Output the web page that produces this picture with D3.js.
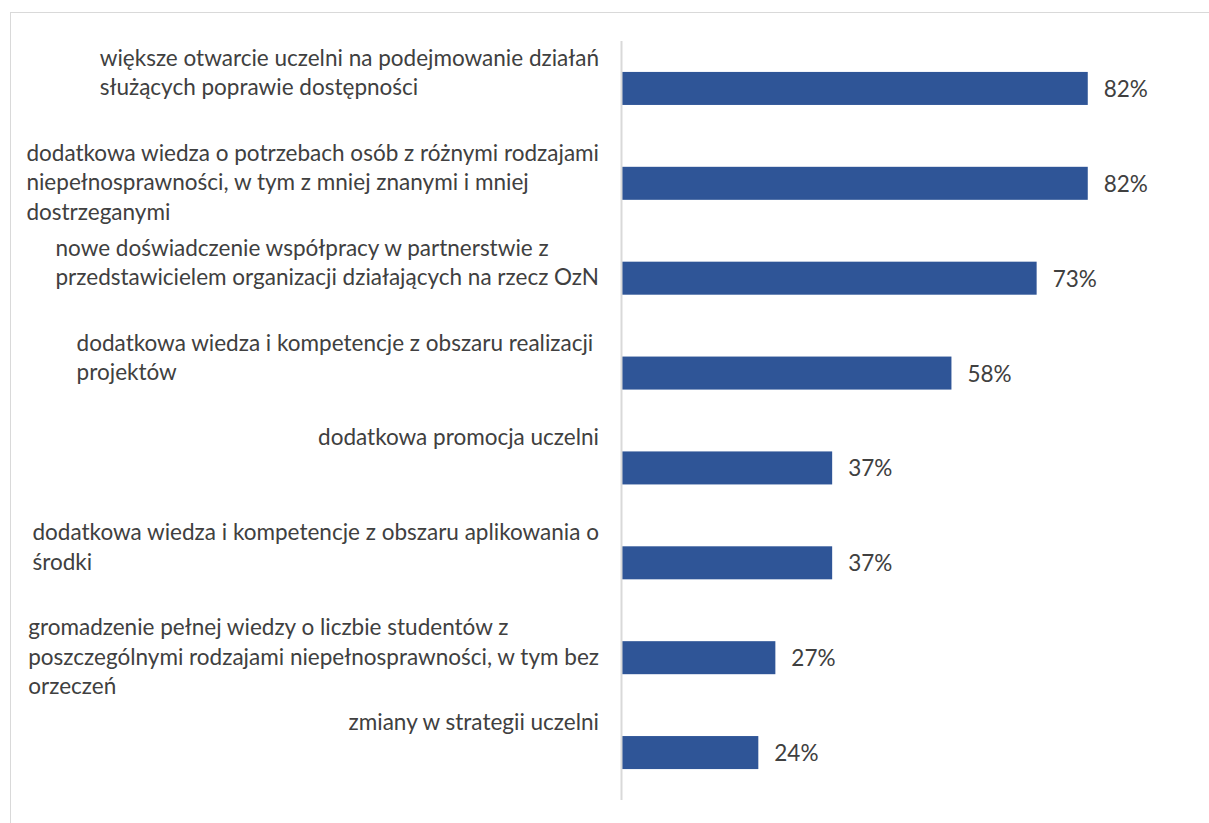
<!DOCTYPE html>
<html lang="pl">
<head>
<meta charset="utf-8">
<script src="https://cdn.jsdelivr.net/npm/d3@7"></script>
<style>
  html, body { margin: 0; padding: 0; background: #ffffff; }
  svg { display: block; }
</style>
</head>
<body>
<svg id="chart" width="1209" height="823"></svg>
<script>
// Category labels, already wrapped into lines
const labelLines = [
  ["większe otwarcie uczelni na podejmowanie działań", "służących poprawie dostępności"],
  ["dodatkowa wiedza o potrzebach osób z różnymi rodzajami", "niepełnosprawności, w tym z mniej znanymi i mniej", "dostrzeganymi"],
  ["nowe doświadczenie współpracy w partnerstwie z", "przedstawicielem organizacji działających na rzecz OzN"],
  ["dodatkowa wiedza i kompetencje z obszaru realizacji ", "projektów"],
  ["dodatkowa promocja uczelni"],
  ["dodatkowa wiedza i kompetencje z obszaru aplikowania o", "środki"],
  ["gromadzenie pełnej wiedzy o liczbie studentów z", "poszczególnymi rodzajami niepełnosprawności, w tym bez", "orzeczeń"],
  ["zmiany w strategii uczelni"]
];
// Share of answers (%)
const values = [82, 82, 73, 58, 37, 37, 27, 24];
const categories = labelLines.map((lines, i) => i);

const FONT = "Lato, 'Open Sans', sans-serif";
const TEXT_COLOR = "#404040";
const BAR_COLOR = "#2F5597";

const svg = d3.select("#chart");

// outer frame of the chart area
svg.append("rect")
  .attr("x", 10.5).attr("y", 12.5)
  .attr("width", 1230).attr("height", 830)
  .attr("fill", "none")
  .attr("stroke", "#d9d9d9")
  .attr("stroke-width", 1);

const x = d3.scaleLinear().domain([0, 100]).range([622, 1190]);
const y = d3.scaleBand()
  .domain(categories)
  .range([41, 800])
  .paddingInner(0.652)
  .paddingOuter(0.326);

// pick a font size so the widest label line spans the label column
const probe = svg.append("text")
  .attr("font-family", FONT)
  .attr("font-size", 20)
  .attr("xml:space", "preserve")
  .text(labelLines[1][0]);
const probeW = probe.node().getComputedTextLength();
probe.remove();
const fontSize = Math.min(24, 20 * 573 / probeW);

// bars
svg.append("g")
  .selectAll("rect")
  .data(values)
  .join("rect")
  .attr("x", x(0))
  .attr("y", (d, i) => y(i))
  .attr("width", d => x(d) - x(0))
  .attr("height", y.bandwidth())
  .attr("fill", BAR_COLOR);

// category axis line
svg.append("line")
  .attr("x1", x(0) - 0.5).attr("x2", x(0) - 0.5)
  .attr("y1", y.range()[0]).attr("y2", y.range()[1])
  .attr("stroke", "#d9d9d9")
  .attr("stroke-width", 2);

// value labels
svg.append("g")
  .selectAll("text")
  .data(values)
  .join("text")
  .attr("x", d => x(d) + 16)
  .attr("y", (d, i) => y(i) + y.bandwidth() / 2)
  .attr("dominant-baseline", "central")
  .attr("font-family", FONT)
  .attr("font-size", fontSize)
  .attr("fill", TEXT_COLOR)
  .text(d => d + "%");

// category labels: lines left-aligned inside a block whose right edge meets the column edge
const labelRight = 599;
const lineGap = 29.5;
const labelGroups = svg.append("g")
  .selectAll("g")
  .data(labelLines)
  .join("g");

labelGroups.each(function (lines, i) {
  const g = d3.select(this);
  const top = y(i) + y.bandwidth() / 2 - 31;
  const texts = g.selectAll("text")
    .data(lines)
    .join("text")
    .attr("xml:space", "preserve")
    .attr("y", (d, j) => top + j * lineGap)
    .attr("dominant-baseline", "central")
    .attr("font-family", FONT)
    .attr("font-size", fontSize)
    .attr("fill", TEXT_COLOR)
    .text(d => d);
  const maxW = d3.max(texts.nodes(), n => n.getComputedTextLength());
  texts.attr("x", labelRight - maxW);
});
</script>
</body>
</html>
